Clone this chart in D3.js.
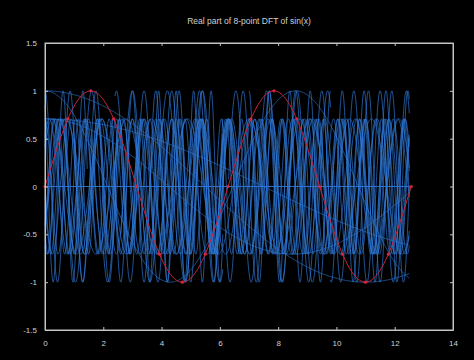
<!DOCTYPE html>
<html lang="en">
<head>
    <meta charset="UTF-8">
    <title>Real part of 8-point DFT of sin(x)</title>
    <style>
        body{
            margin: 0;
            background-color: #000;
        }
        svg{
            display: block;
            background-color: #000;
        }
        .axis line, .axis path{
            stroke: #c4c4c4;
        }
        .axis text{
            fill: #d0d0d0;
            font-family: "Liberation Sans", Arial, sans-serif;
            font-size: 8px;
        }
    </style>
</head>
<body>

<div id="chart"></div>

<script src="https://cdn.jsdelivr.net/npm/d3@7"></script>
<script>
    var width = 474, height = 360;
    var plotLeft = 45, plotRight = 453, plotTop = 43, plotBottom = 330;

    // tick labels
    var xTicks = [0, 2, 4, 6, 8, 10, 12, 14];
    var yTicks = [-1.5, -1, -0.5, 0, 0.5, 1, 1.5];

    // red: sin(x) sampled every pi/4 from 0 to 4pi
    var sampleX = [0, 0.785, 1.571, 2.356, 3.142, 3.927, 4.712, 5.498, 6.283,
                   7.069, 7.854, 8.639, 9.425, 10.21, 10.996, 11.781, 12.566];
    var sampleY = [0, 0.707, 1, 0.707, 0, -0.707, -1, -0.707, 0,
                   0.707, 1, 0.707, 0, -0.707, -1, -0.707, 0];

    // blue curves: [from, to, period, x of a crest]
    var fullWaves = [   // amplitude 1
        [0, 1.45, 0.68, 0.62], [0, 1.4, 0.86, 0.0], [0.9, 2.5, 1.1, 1.6],
        [1.0, 2.5, 0.9, 1.75], [2.3, 6.1, 0.8, 3.0], [2.4, 6.1, 0.95, 3.4],
        [2.6, 6.1, 1.2, 4.2], [3.5, 6.1, 0.6, 5.1],
        [6.1, 9.8, 0.9, 6.8], [6.3, 9.8, 1.05, 7.6], [7.0, 9.8, 0.7, 9.1],
        [9.8, 12.5, 0.75, 10.2], [9.9, 12.5, 0.9, 11.5],
        [10.4, 12.5, 0.8, 11.9], [0, 12.5, 8.6, 0], [0, 12.5, 22, 0]
    ];
    var halfWaves = [   // amplitude 0.707
        [0, 12.5, 0.8, 0.6], [0, 12.5, 0.9, 0.0], [0, 12.5, 1.0, 0.35],
        [0, 12.5, 1.1, 0.8], [0, 12.5, 1.25, 0.15], [0, 12.5, 1.45, 0.5],
        [0, 12.5, 1.7, 0.25], [0, 12.5, 2.1, 0.7], [0, 12.5, 0.75, 0.3],
        [0, 12.5, 0.95, 0.55], [0, 12.5, 0.7, 0.45],
        [0, 12.5, 17, 0], [0, 12.5, 30, 0]
    ];
    var zeroLine = [0, 12.5];
    var levels = [1, 0.707];

    var xScale = d3.scaleLinear().domain([0, 14]).range([plotLeft, plotRight]);
    var yScale = d3.scaleLinear().domain([-1.5, 1.5]).range([plotBottom, plotTop]);

    var svg = d3.select('#chart')
        .append('svg')
        .attr('width', width)
        .attr('height', height);

    var line = d3.line()
        .x(function(d){ return xScale(d[0]); })
        .y(function(d){ return yScale(d[1]); });

    function wavePoints(w, amp){
        return d3.range(w[0], w[1] + 0.0001, 0.01).map(function(x){
            return [x, amp * Math.cos(2 * Math.PI * (x - w[3]) / w[2])];
        });
    }

    var blue = svg.append('g')
        .attr('fill', 'none')
        .attr('stroke', '#3079da')
        .attr('stroke-width', 0.75)
        .attr('stroke-opacity', 0.9);

    blue.selectAll('.half')
        .data(halfWaves)
        .enter()
        .append('path')
        .attr('class', 'half')
        .attr('d', function(w){ return line(wavePoints(w, levels[1])); });

    blue.selectAll('.full')
        .data(fullWaves)
        .enter()
        .append('path')
        .attr('class', 'full')
        .attr('d', function(w){ return line(wavePoints(w, levels[0])); });

    blue.append('path')
        .attr('stroke-width', 1)
        .attr('d', line([[zeroLine[0], 0], [zeroLine[1], 0]]));

    // red sin(x), smooth through the samples
    var red = sampleX.map(function(x, i){ return [x, sampleY[i]]; });
    svg.append('path')
        .attr('fill', 'none')
        .attr('stroke', '#cc2238')
        .attr('stroke-width', 1)
        .attr('d', line.curve(d3.curveNatural)(red));

    svg.selectAll('.mark')
        .data(red)
        .enter()
        .append('circle')
        .attr('class', 'mark')
        .attr('cx', function(d){ return xScale(d[0]); })
        .attr('cy', function(d){ return yScale(d[1]); })
        .attr('r', 1.6)
        .attr('fill', '#d8263a');

    // axes (ticks pointing inwards)
    svg.append('g')
        .attr('class', 'axis')
        .attr('transform', 'translate(0,' + plotBottom + ')')
        .call(d3.axisBottom(xScale).tickValues(xTicks).tickSizeInner(-3).tickSizeOuter(0).tickPadding(10));
    svg.append('g')
        .attr('class', 'axis')
        .attr('transform', 'translate(0,' + plotTop + ')')
        .call(d3.axisTop(xScale).tickValues(xTicks).tickSizeInner(-3).tickSizeOuter(0).tickFormat(''));
    svg.append('g')
        .attr('class', 'axis')
        .attr('transform', 'translate(' + plotLeft + ',0)')
        .call(d3.axisLeft(yScale).tickValues(yTicks).tickSizeInner(-3).tickSizeOuter(0).tickPadding(8)
            .tickFormat(function(d){ return String(d); }));
    svg.append('g')
        .attr('class', 'axis')
        .attr('transform', 'translate(' + plotRight + ',0)')
        .call(d3.axisRight(yScale).tickValues(yTicks).tickSizeInner(-3).tickSizeOuter(0).tickFormat(''));

    svg.append('rect')
        .attr('x', plotLeft)
        .attr('y', plotTop)
        .attr('width', plotRight - plotLeft)
        .attr('height', plotBottom - plotTop)
        .attr('fill', 'none')
        .attr('stroke', '#c4c4c4');

    svg.append('text')
        .attr('x', (plotLeft + plotRight) / 2)
        .attr('y', 24)
        .attr('text-anchor', 'middle')
        .attr('fill', '#d0d0d0')
        .attr('font-family', '"Liberation Sans", Arial, sans-serif')
        .attr('font-size', '8.5px')
        .text('Real part of 8-point DFT of sin(x)');
</script>

</body>
</html>
